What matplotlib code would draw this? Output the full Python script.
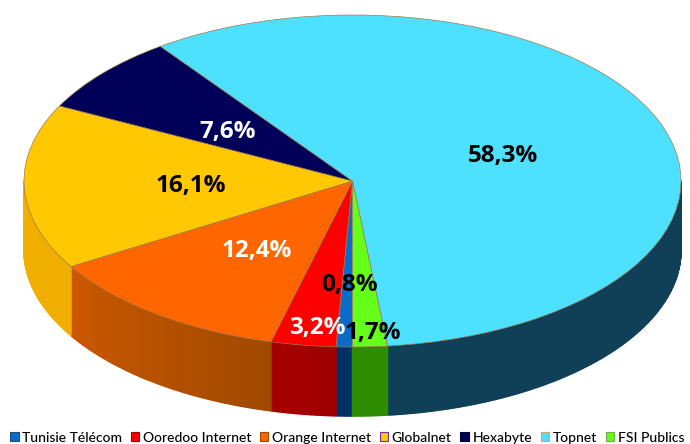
import numpy as np
import matplotlib
matplotlib.use("Agg")
import matplotlib.pyplot as plt
from matplotlib.collections import PolyCollection
from matplotlib.colors import to_rgb
from matplotlib.patches import Patch

categories = ["Tunisie Télécom", "Ooredoo Internet", "Orange Internet", "Globalnet",
              "Hexabyte", "Topnet", "FSI Publics"]
values = [0.8, 3.2, 12.4, 16.1, 7.6, 58.3, 1.7]

top_colors = ["#0A6CC8", "#FF0000", "#FF6600", "#FFC800", "#000058", "#4DE1FF", "#66FF1A"]
side_from = ["#003068", "#A00000", "#A04A00", "#F0AE00", "#000030", "#246C92", "#2E8C00"]
side_to = ["#003068", "#A60000", "#CC5800", "#F2B400", "#000030", "#0F4058", "#2E8C00"]
legend_edges = ["#1F4E79", "#A00000", "#A04A00", "#7030A0", "#000030", "#ED9B5A", "#70AD47"]
label_colors = ["black", "white", "white", "black", "white", "black", "black"]
label_px = [(349, 285), (317, 328), (257, 251), (191, 186), (228, 132), (503, 156), (373, 333)]

W, H = 690, 444
CX, CY, RX, RY, DEPTH = 352.5, 181.0, 328.5, 166.0, 69.0

fig = plt.figure(figsize=(W / 100, H / 100), dpi=100, facecolor="white")
ax = fig.add_axes([0, 0, 1, 1])

depth = DEPTH / RY


def to_data(px, py):
    return (px - CX) / RX, (CY - py) / RY


# side walls
fractions = np.cumsum([0] + values) / sum(values)
for i in range(len(values)):
    a0 = -90 - 360 * fractions[i]
    a1 = -90 - 360 * fractions[i + 1]
    ts = np.linspace(a0, a1, max(2, int(abs(a1 - a0) * 2) + 2))
    polys, cols = [], []
    c0, c1 = np.array(to_rgb(side_from[i])), np.array(to_rgb(side_to[i]))
    for k, (t0, t1) in enumerate(zip(ts[:-1], ts[1:])):
        if np.sin(np.radians((t0 + t1) / 2)) > 0:
            continue
        x0, y0 = np.cos(np.radians(t0)), np.sin(np.radians(t0))
        x1, y1 = np.cos(np.radians(t1)), np.sin(np.radians(t1))
        polys.append([(x0, y0), (x1, y1), (x1, y1 - depth), (x0, y0 - depth)])
        f = k / max(1, len(ts) - 2)
        if side_from[i] == "#246C92":  # light band fades quickly next to the front edge
            f = min(1.0, f * 4)
        cols.append(tuple(c0 + (c1 - c0) * f))
    if polys:
        ax.add_collection(PolyCollection(polys, facecolors=cols, edgecolors=cols,
                                         linewidths=1.1, joinstyle="round"))

# top surface
wedges, _ = ax.pie(values, colors=top_colors, startangle=-90, counterclock=False, radius=1,
                   center=(0, 0), frame=False, normalize=True,
                   wedgeprops=dict(edgecolor="#9C7A50", linewidth=0.5))
ax.set_aspect("auto")
ax.set_xlim(-CX / RX, (W - CX) / RX)
ax.set_ylim((CY - H) / RY, CY / RY)
ax.axis("off")

for v, c, (px, py) in zip(values, label_colors, label_px):
    x, y = to_data(px, py)
    ax.text(x, y, f"{v:.1f}%".replace(".", ","), color=c, ha="center", va="center",
            fontsize=17.5, fontweight="bold", family="Open Sans", zorder=10)

handles = [Patch(facecolor=f, edgecolor=e, linewidth=0.8) for f, e in zip(top_colors, legend_edges)]
ax.legend(handles, categories, loc="lower left", bbox_to_anchor=(10 / W, 0.5 / H), ncol=7, frameon=False,
          prop=dict(family="Lato", weight="medium", size=10.0), handlelength=0.62, handleheight=0.62,
          handletextpad=0.25, columnspacing=0.62, borderpad=0, borderaxespad=0)

fig.savefig("out.png", dpi=100, facecolor="white")
